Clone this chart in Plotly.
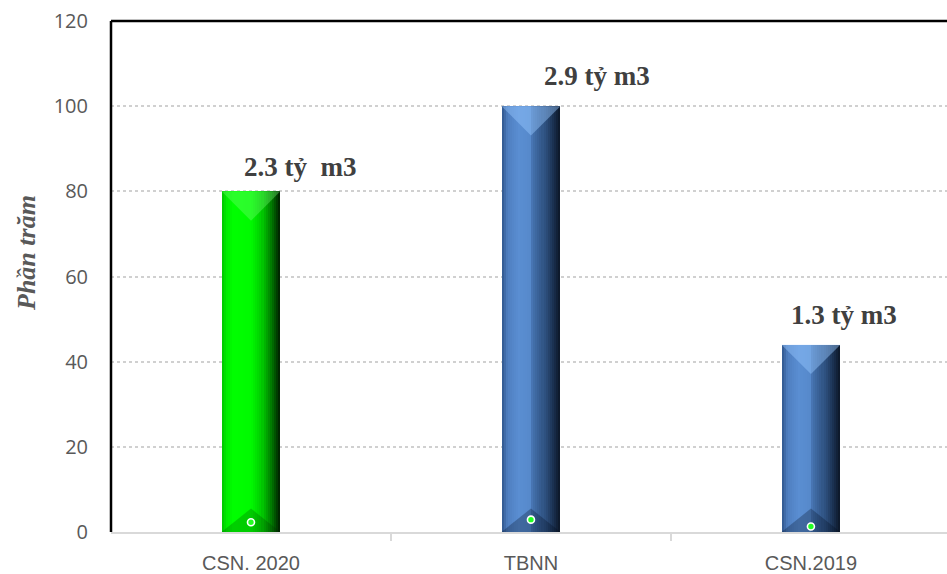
import plotly.graph_objects as go

# ---- data ----
categories = ["CSN. 2020", "TBNN", "CSN.2019"]
percent = [80, 100, 44]                     # bar height, % of the long-term mean
volume = [2.3, 2.9, 1.3]                    # volume, billion m3 (small marker series)
labels = ["2.3 tỷ\u00a0\u00a0m3", "2.9 tỷ m3", "1.3 tỷ m3"]
y_ticks = [0, 20, 40, 60, 80, 100, 120]

# ---- style ----
palette = ["green", "blue", "blue"]
label_dx = [49, 66, 33]     # px offset of the value labels from bar centre
label_dy = [24, 30, 30]     # px above bar top
BAR_W = 0.21
N_SLICES = 28

stops = {
    "green": [(0.0, (0, 195, 0)), (0.08, (0, 235, 0)), (0.2, (0, 255, 0)),
              (0.5, (0, 250, 0)), (0.68, (0, 205, 0)), (0.85, (0, 120, 0)),
              (1.0, (0, 28, 0))],
    "blue": [(0.0, (48, 86, 140)), (0.1, (78, 126, 192)), (0.3, (90, 142, 210)),
             (0.5, (86, 136, 202)), (0.52, (70, 115, 176)), (0.75, (44, 78, 124)),
             (0.9, (24, 44, 74)), (1.0, (12, 22, 38))],
}
top_tint = {"green": "rgba(120,255,120,0.35)", "blue": "rgba(150,200,255,0.45)"}
bottom_tint = {"green": "rgba(0,40,0,0.22)", "blue": "rgba(0,10,30,0.28)"}


def shade(name, t):
    s = stops[name]
    for (t0, c0), (t1, c1) in zip(s, s[1:]):
        if t0 <= t <= t1:
            f = (t - t0) / (t1 - t0) if t1 > t0 else 0
            return "rgb(%d,%d,%d)" % tuple(round(a + (b - a) * f) for a, b in zip(c0, c1))
    return "rgb(%d,%d,%d)" % s[-1][1]


xpos = list(range(len(categories)))
fig = go.Figure()

# cylinder-like horizontal shading: each bar is built from narrow vertical slices
for i in range(N_SLICES):
    t = (i + 0.5) / N_SLICES
    fig.add_trace(go.Bar(
        x=xpos, y=percent,
        width=BAR_W / N_SLICES * 1.04,
        offset=-BAR_W / 2 + i * BAR_W / N_SLICES,
        marker=dict(color=[shade(p, t) for p in palette], line=dict(width=0)),
        hoverinfo="skip", showlegend=False,
    ))

# bevel facets at the top and bottom of each bar
px_per_unit = 511 / 120
half_w_units = (BAR_W * 280 / 2) / px_per_unit
for x, v, p in zip(xpos, percent, palette):
    fig.add_trace(go.Scatter(
        x=[x - BAR_W / 2, x + BAR_W / 2, x, x - BAR_W / 2],
        y=[v, v, v - half_w_units, v],
        mode="lines", fill="toself", fillcolor=top_tint[p],
        line=dict(width=0), hoverinfo="skip", showlegend=False,
    ))
    fig.add_trace(go.Scatter(
        x=[x - BAR_W / 2, x + BAR_W / 2, x, x - BAR_W / 2],
        y=[0, 0, half_w_units * 0.8, 0],
        mode="lines", fill="toself", fillcolor=bottom_tint[p],
        line=dict(width=0), hoverinfo="skip", showlegend=False,
    ))

# volume series as small markers
fig.add_trace(go.Scatter(
    x=xpos, y=volume, mode="markers",
    marker=dict(size=7, color="#22ff22", line=dict(color="white", width=1.6)),
    showlegend=False,
))

# value labels
for x, v, txt, dx, dy in zip(xpos, percent, labels, label_dx, label_dy):
    fig.add_annotation(
        x=x, y=v, text=txt, showarrow=False,
        xshift=dx, yshift=dy, xanchor="center", yanchor="middle",
        font=dict(family="Liberation Serif, Times New Roman, serif",
                  size=27, color="#404040", weight="bold"),
    )

# y-axis title
fig.add_annotation(
    xref="paper", yref="paper", x=0, y=0.546, xshift=-84,
    text="<b><i>Phần trăm</i></b>", textangle=-90, showarrow=False,
    xanchor="center", yanchor="middle",
    font=dict(family="Liberation Serif, Times New Roman, serif", size=26, color="#595959"),
)

# black frame on the left and top of the plotting area
fig.add_shape(type="line", xref="paper", yref="paper", x0=0, x1=0, y0=0, y1=1,
              line=dict(color="black", width=2.5))
fig.add_shape(type="line", xref="paper", yref="paper", x0=0, x1=1, y0=1, y1=1,
              line=dict(color="black", width=2.5))

fig.update_layout(
    width=947, height=574,
    margin=dict(l=111, r=0, t=21, b=42),
    paper_bgcolor="white", plot_bgcolor="white",
    barmode="overlay", bargap=0,
    xaxis=dict(
        range=[-0.5, 2.486], automargin=False,
        tickmode="array", tickvals=xpos, ticktext=categories,
        ticks="", showgrid=False, zeroline=False,
        showline=True, linecolor="#d9d9d9", linewidth=2,
        tickfont=dict(family="Liberation Sans Narrow, Arial Narrow, Liberation Sans, sans-serif",
                      size=20, color="#595959"),
        ticklabelstandoff=12,
        minor=dict(tickmode="array", tickvals=[0.5, 1.5], ticks="outside",
                   ticklen=7, tickwidth=2, tickcolor="#d9d9d9", showgrid=False),
    ),
    yaxis=dict(
        range=[0, 120], tickmode="array", tickvals=y_ticks, automargin=False,
        showgrid=True, gridcolor="#d0d0d0", gridwidth=1.5, griddash="dot",
        zeroline=False, showline=False, ticks="",
        tickfont=dict(family="Open Sans, sans-serif", size=20, color="#595959"),
        ticklabelstandoff=22,
    ),
)

fig.write_html("out.html")
